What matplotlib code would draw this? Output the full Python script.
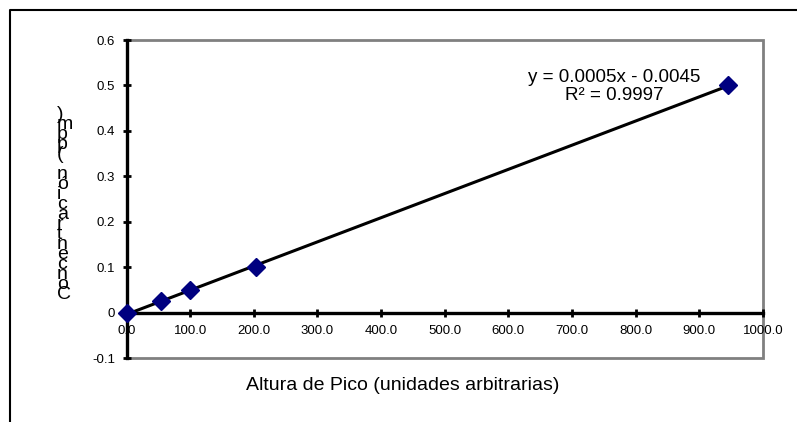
import numpy as np
import matplotlib.pyplot as plt
from matplotlib.patches import Rectangle

# datos de la curva de calibracion
altura = [0, 54, 99, 204, 945]
concentracion = [0, 0.025, 0.05, 0.1, 0.5]
xticks = [0, 100, 200, 300, 400, 500, 600, 700, 800, 900, 1000]
yticks = [-0.1, 0, 0.1, 0.2, 0.3, 0.4, 0.5, 0.6]
ytick_labels = ['-0.1', '0', '0.1', '0.2', '0.3', '0.4', '0.5', '0.6']
ecuacion = 'y = 0.0005x - 0.0045\nR² = 0.9997'
titulo_x = 'Altura de Pico (unidades arbitrarias)'
titulo_y = 'Concentración (ppm)'

plt.rcParams['font.family'] = ['Liberation Sans', 'DejaVu Sans']

W, H = 797, 422
fig = plt.figure(figsize=(W / 100, H / 100), dpi=100)
ax = fig.add_axes([126.5 / W, (H - 358.3) / H, (763 - 126.5) / W, (358.3 - 40) / H])

# marco de la figura (solo arriba e izquierda visibles)
fig.add_artist(plt.Line2D([9.5 / W, 9.5 / W, 1.0], [0.0, (H - 10) / H, (H - 10) / H],
                          color='black', lw=1.5, transform=fig.transFigure))

# borde gris del area de trazado
ax.add_patch(Rectangle((0, 0), 1, 1, transform=ax.transAxes, fill=False,
                       edgecolor='#808080', lw=2, clip_on=False, zorder=1))

# linea de tendencia
m, b = np.polyfit(altura, concentracion, 1)
xs = np.array([0, max(altura)])
ax.plot(xs, m * xs + b, color='black', lw=2.2, zorder=3, clip_on=False)

ax.plot(altura, concentracion, 'D', color='#000080', ms=9.5, zorder=4, clip_on=False)

ax.set_xlim(0, 1000)
ax.set_ylim(-0.1, 0.6)
ax.set_xticks(xticks)
ax.set_xticklabels([f'{v:.1f}' for v in xticks])
ax.set_yticks(yticks)
ax.set_yticklabels(ytick_labels)

for s in ['top', 'right']:
    ax.spines[s].set_visible(False)
ax.spines['bottom'].set_position(('data', 0))
ax.spines['bottom'].set_linewidth(2.4)
ax.spines['left'].set_linewidth(2.4)
ax.spines['bottom'].set_zorder(2.6)
ax.spines['left'].set_zorder(2.6)

ax.tick_params(axis='both', direction='inout', length=5.5, width=2, labelsize=9.5)
ax.tick_params(axis='x', pad=6)
ax.tick_params(axis='y', pad=5.5)

ax.text(614.5 / W, (H - 86.5) / H, ecuacion, transform=fig.transFigure,
        ha='center', va='center', multialignment='center', fontsize=13.5, linespacing=1.15)

fig.text(403 / W, (H - 385) / H, titulo_x, ha='center', va='center', fontsize=14)

# titulo vertical con letras apiladas
for i, ch in enumerate(titulo_y):
    fig.text(57 / W, (H - 299 + 10 * i) / H, ch, ha='left', va='baseline', fontsize=14)

fig.savefig('out.png', dpi=100)
